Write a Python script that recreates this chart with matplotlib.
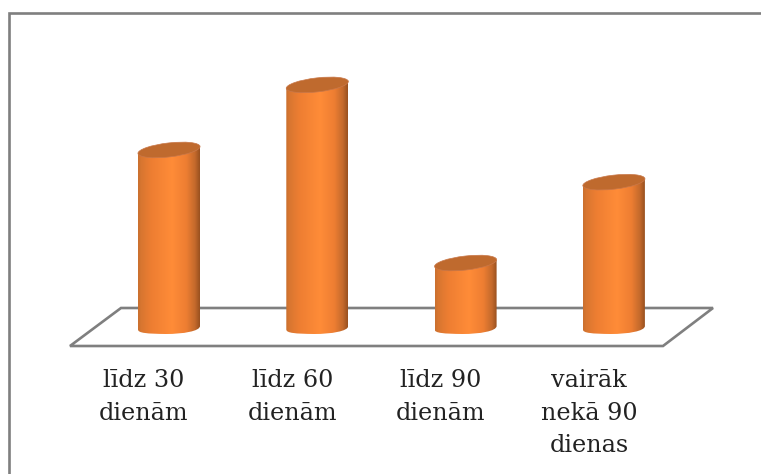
import numpy as np
import matplotlib
matplotlib.use("Agg")
import matplotlib.pyplot as plt
from matplotlib.colors import LinearSegmentedColormap
from matplotlib.patches import Ellipse, Polygon, PathPatch
from matplotlib.path import Path
from matplotlib.transforms import IdentityTransform

categories = ["līdz 30\ndienām", "līdz 60\ndienām", "līdz 90\ndienām", "vairāk\nnekā 90\ndienas"]
values = [28.3, 39.0, 9.7, 23.0]

W, H = 761, 474
PX_PER_X = 148.3
PX_PER_Y = 6.08
X0, Y0 = 169.0, 322.0

fig = plt.figure(figsize=(W / 100, H / 100), dpi=100, facecolor="white")
ax = fig.add_axes([0, 0, 1, 1])
ax.set_xlim(-X0 / PX_PER_X, (W - X0) / PX_PER_X)
ax.set_ylim((Y0 - H) / PX_PER_Y, Y0 / PX_PER_Y)
ax.axis("off")

grey = "#7f7f7f"
# Frame
ax.add_patch(Polygon([(9 / W, -0.1), (9 / W, 1 - 13 / H), (1.1, 1 - 13 / H)], closed=False, fill=False,
                     edgecolor=grey, lw=1.9, transform=ax.transAxes, joinstyle="miter"))
# Floor
floor = [(70, 346), (121, 308), (713, 308), (663, 346)]
ax.add_patch(Polygon([(px / W, 1 - py / H) for px, py in floor], closed=True, facecolor="white",
                     edgecolor=grey, lw=1.9, transform=ax.transAxes, joinstyle="miter"))

cmap = LinearSegmentedColormap.from_list("cyl", [
    (0.0, "#c9702f"), (0.05, "#d87630"), (0.22, "#ee7e32"), (0.55, "#ff8c38"),
    (0.78, "#ee7e32"), (0.92, "#c46a2c"), (1.0, "#99501f")])

half_w = 31 / PX_PER_X
tilt = 3.0 / PX_PER_Y
grad = np.linspace(0, 1, 256).reshape(1, -1)
low_l, low_m, low_r = -7.5 / PX_PER_Y, -12.0 / PX_PER_Y, -4.0 / PX_PER_Y

for i, (v, lab) in enumerate(zip(values, categories)):
    l, r = i - half_w, i + half_w
    t = v
    verts = [(l, t - tilt), (l, low_l),
             (l, low_l - 0.6), (l + half_w * 0.3, low_m * 0.98), (i - half_w * 0.1, low_m),
             (i + half_w * 0.45, low_m), (r, low_r - 0.85), (r, low_r),
             (r, t + tilt), (l, t - tilt)]
    codes = [Path.MOVETO, Path.LINETO, Path.CURVE4, Path.CURVE4, Path.CURVE4,
             Path.CURVE4, Path.CURVE4, Path.CURVE4, Path.LINETO, Path.CLOSEPOLY]
    im = ax.imshow(grad, cmap=cmap, extent=(l, r, low_m - 1, t + 2), aspect="auto", zorder=3,
                   interpolation="bilinear")
    patch = PathPatch(Path(verts, codes), facecolor="none", edgecolor="none", transform=ax.transData)
    ax.add_patch(patch)
    im.set_clip_path(patch)
    cx, cy = ax.transData.transform((i, t))
    ax.add_patch(Ellipse((cx, cy), 62.5, 14, angle=6.5, facecolor="#bf6a2e", edgecolor="#c9784a",
                         lw=0.5, transform=IdentityTransform(), zorder=4))
    ax.text(i - 25 / PX_PER_X, -47 / PX_PER_Y, lab, ha="center", va="top", fontsize=17.2,
            family="DejaVu Serif", color="#222222", linespacing=1.54, zorder=5)

ax.set_xlim(-X0 / PX_PER_X, (W - X0) / PX_PER_X)
ax.set_ylim((Y0 - H) / PX_PER_Y, Y0 / PX_PER_Y)
fig.savefig("out.png", dpi=100)
